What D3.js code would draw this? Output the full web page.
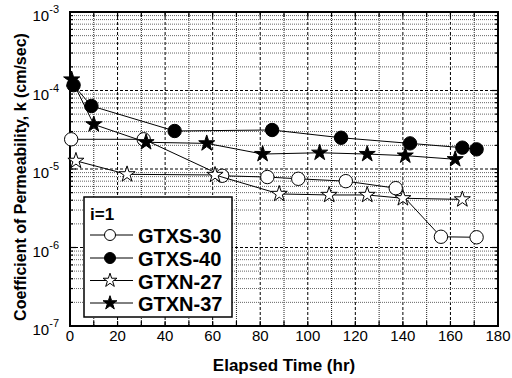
<!DOCTYPE html>
<html><head><meta charset="utf-8">
<script src="https://cdn.jsdelivr.net/npm/d3@7"></script>
<style>body{margin:0;background:#fff;} svg{display:block;font-family:"Liberation Sans",Arial,sans-serif;}</style>
</head><body><svg id="c" width="512" height="378"></svg>
<script>
const xTicks = [0,20,40,60,80,100,120,140,160,180];
const yExponents = [-7,-6,-5,-4,-3];
const seriesNames = ["GTXS-30","GTXS-40","GTXN-27","GTXN-37"];
const gtxs30_t = [0.5,31,64,83,96,116,137,156,171];
const gtxs30_k = [2.39e-5,2.39e-5,8.2e-6,7.9e-6,7.5e-6,7.0e-6,5.7e-6,1.37e-6,1.35e-6];
const gtxs40_t = [1.5,9,44,85,114,143,165,171];
const gtxs40_k = [1.17e-4,6.35e-5,3.05e-5,3.14e-5,2.5e-5,2.12e-5,1.87e-5,1.78e-5];
const gtxn27_t = [2.5,24,61,88,109,125,140,165];
const gtxn27_k = [1.27e-5,8.55e-6,8.4e-6,4.81e-6,4.67e-6,4.67e-6,4.24e-6,4.1e-6];
const gtxn37_t = [0.7,10,32,57.5,81,105,125,141,162];
const gtxn37_k = [1.38e-4,3.7e-5,2.19e-5,2.12e-5,1.55e-5,1.61e-5,1.55e-5,1.48e-5,1.33e-5];

const svg = d3.select("#c");
const L=70,T=12,R=498,B=326;
const x = d3.scaleLinear().domain([0,180]).range([L,R]);
const y = d3.scaleLog().domain([1e-7,1e-3]).range([B,T]);

// grid
const g = svg.append("g");
for(let v=10; v<180; v+=10){
  const major = v%20===0;
  g.append("line").attr("x1",x(v)).attr("x2",x(v)).attr("y1",T).attr("y2",B)
   .attr("stroke",major?"#000":"#222").attr("stroke-width",1)
   .attr("stroke-dasharray",major?"3,2":"1,1");
}
for(let e=-7;e<-3;e++){
  for(let m=2;m<=9;m++){
    const v=m*Math.pow(10,e);
    g.append("line").attr("x1",L).attr("x2",R).attr("y1",y(v)).attr("y2",y(v))
     .attr("stroke","#666").attr("stroke-width",1).attr("stroke-dasharray","1,1");
  }
  if(e>-7){
    g.append("line").attr("x1",L).attr("x2",R).attr("y1",y(Math.pow(10,e))).attr("y2",y(Math.pow(10,e)))
     .attr("stroke","#000").attr("stroke-width",1).attr("stroke-dasharray","3,2");
  }
}

// ticks
const tk = svg.append("g").attr("stroke","#000").attr("stroke-width",1.2);
for(let v=10; v<180; v+=10){
  tk.append("line").attr("x1",x(v)).attr("x2",x(v)).attr("y1",B).attr("y2",B-5);
  tk.append("line").attr("x1",x(v)).attr("x2",x(v)).attr("y1",T).attr("y2",T+5);
}
for(let e=-7;e<-3;e++){
  for(let m=1;m<=9;m++){
    const v=m*Math.pow(10,e); if(m===1&&e===-7) continue;
    const len = m===1?6:3;
    tk.append("line").attr("x1",L).attr("x2",L+len).attr("y1",y(v)).attr("y2",y(v));
    tk.append("line").attr("x1",R).attr("x2",R-len).attr("y1",y(v)).attr("y2",y(v));
  }
}
svg.append("rect").attr("x",L).attr("y",T).attr("width",R-L).attr("height",B-T)
  .attr("fill","none").attr("stroke","#000").attr("stroke-width",2);

// tick labels
svg.append("g").selectAll("text").data(xTicks).join("text")
  .attr("x",d=>x(d)).attr("y",341).attr("text-anchor","middle")
  .attr("font-size",15).text(d=>d);
const yl = svg.append("g").selectAll("text").data(yExponents).join("text")
  .attr("x",59).attr("y",d=>y(Math.pow(10,d))+9).attr("text-anchor","end").attr("font-size",15);
yl.append("tspan").text("10");
yl.append("tspan").attr("dy",-8).attr("font-size",11).text(d=>"-"+(-d));

// axis titles
svg.append("text").attr("x",(L+R)/2).attr("y",371).attr("text-anchor","middle")
  .attr("font-size",17).attr("font-weight","bold").text("Elapsed Time (hr)");
svg.append("text").attr("transform","translate(26,177) rotate(-90)").attr("text-anchor","middle")
  .attr("font-size",16).attr("font-weight","bold").text("Coefficient of Permeability, k (cm/sec)");

// series
const series = [
  {name:seriesNames[0], t:gtxs30_t, k:gtxs30_k, sym:d3.symbolCircle, fill:"#fff"},
  {name:seriesNames[1], t:gtxs40_t, k:gtxs40_k, sym:d3.symbolCircle, fill:"#000"},
  {name:seriesNames[2], t:gtxn27_t, k:gtxn27_k, sym:d3.symbolStar, fill:"#fff"},
  {name:seriesNames[3], t:gtxn37_t, k:gtxn37_k, sym:d3.symbolStar, fill:"#000"}
];
const line = d3.line().x(d=>x(d[0])).y(d=>y(d[1]));
const plot = svg.append("g");
function symSize(s){ return s.sym===d3.symbolCircle ? Math.PI*6.7*6.7 : 80; }
series.forEach(s=>{
  const pts = s.t.map((t,i)=>[t,s.k[i]]);
  plot.append("path").attr("d",line(pts)).attr("fill","none").attr("stroke","#000").attr("stroke-width",1);
  plot.selectAll(null).data(pts).join("path")
    .attr("transform",d=>`translate(${x(d[0])},${y(d[1])})`)
    .attr("d",d3.symbol().type(s.sym).size(symSize(s)))
    .attr("fill",s.fill).attr("stroke","#000").attr("stroke-width",1);
});

// legend
const lg = svg.append("g");
lg.append("rect").attr("x",84).attr("y",197).attr("width",148).attr("height",120)
  .attr("fill","#fff").attr("stroke","#000").attr("stroke-width",1.5);
lg.append("text").attr("x",90).attr("y",220).attr("font-size",17).attr("font-weight","bold").text("i=1");
const rows=[235,258,280.5,303];
series.forEach((s,i)=>{
  const yy=rows[i];
  lg.append("line").attr("x1",90).attr("x2",133).attr("y1",yy).attr("y2",yy).attr("stroke","#000").attr("stroke-width",1);
  lg.append("path").attr("transform",`translate(110,${yy})`)
    .attr("d",d3.symbol().type(s.sym).size(s.sym===d3.symbolCircle?Math.PI*5.5*5.5:60))
    .attr("fill",s.fill).attr("stroke","#000").attr("stroke-width",1);
  lg.append("text").attr("x",138).attr("y",yy+8).attr("font-size",20).attr("font-weight","bold").text(s.name);
});
</script></body></html>
